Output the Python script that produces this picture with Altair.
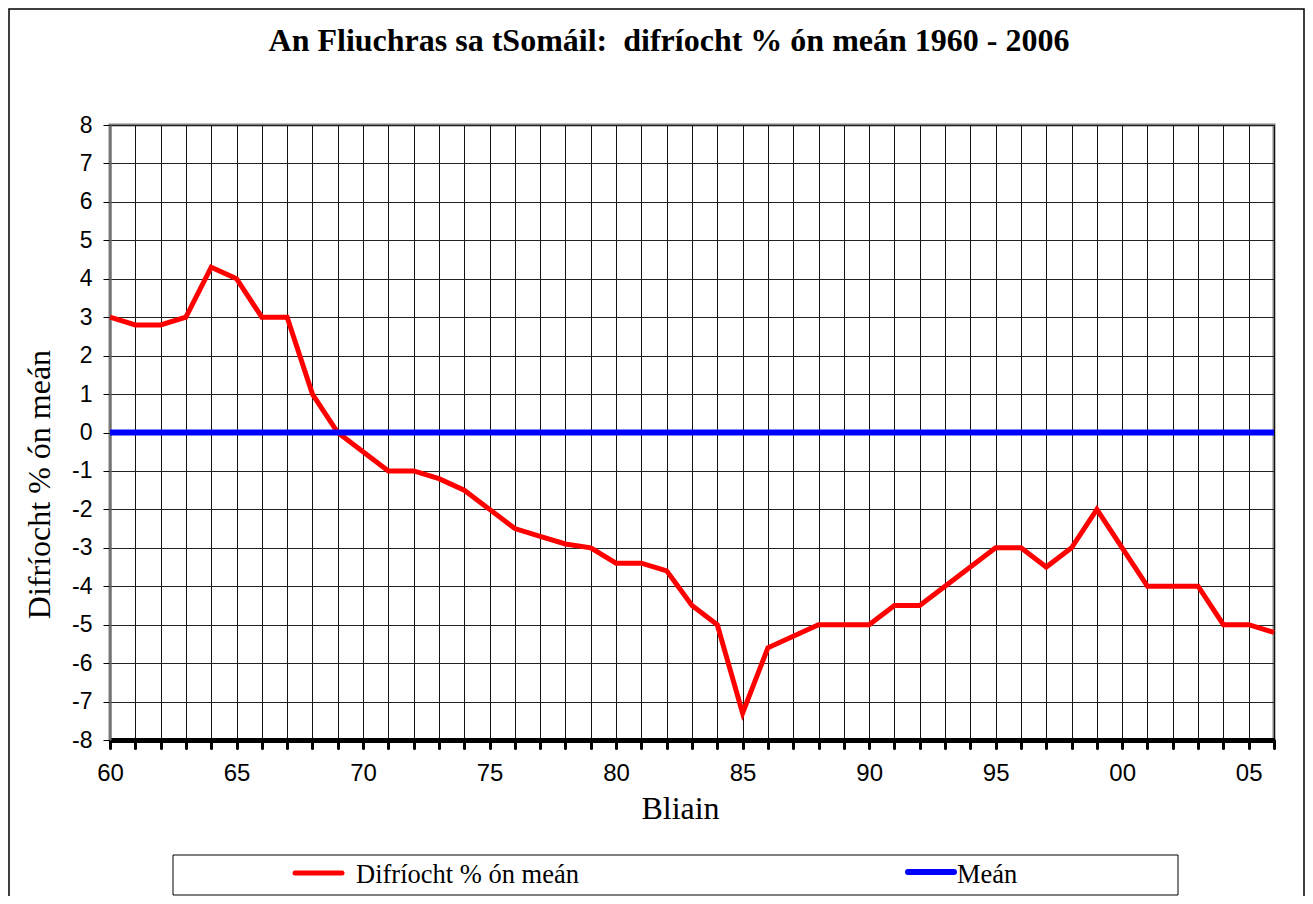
import altair as alt
import pandas as pd

years = list(range(1960, 2007))
diff = [3.0, 2.8, 2.8, 3.0, 4.3, 4.0, 3.0, 3.0, 1.0, 0.0,
        -0.5, -1.0, -1.0, -1.2, -1.5, -2.0, -2.5, -2.7, -2.9, -3.0,
        -3.4, -3.4, -3.6, -4.5, -5.0, -7.3, -5.6, -5.3, -5.0, -5.0,
        -5.0, -4.5, -4.5, -4.0, -3.5, -3.0, -3.0, -3.5, -3.0, -2.0,
        -3.0, -4.0, -4.0, -4.0, -5.0, -5.0, -5.2]
mean_vals = [0.0] * len(years)
y_ticks = list(range(-8, 9))

title_text = "An Fliuchras sa tSomáil:\u00a0 difríocht % ón meán 1960 - 2006"
x_title = "Bliain"
y_title = "Difríocht % ón meán"
legend_labels = ["Difríocht % ón meán", "Meán"]

W, H = 1164, 615

df = pd.DataFrame({"year": years, "diff": diff, "mean": mean_vals})

x_scale = alt.Scale(domain=[1960, 2006], nice=False, zero=False)
y_scale = alt.Scale(domain=[-8, 8], nice=False, zero=False)

x_label_expr = ("datum.value % 5 == 0 ? (datum.value % 100 < 10 ? '0' + (datum.value % 100) : '' + (datum.value % 100)) : ''")
y_label_expr = "'' + datum.value"

x_axis = alt.Axis(values=years, grid=True, gridColor="#111111", gridWidth=1,
                  domainColor="#000000", domainWidth=5,
                  tickColor="#000000", tickWidth=3, tickSize=8, tickCap="round",
                  labelExpr=x_label_expr, labelOverlap=False, labelFlush=False,
                  labelFont="Liberation Sans", labelFontSize=24, labelColor="#000000",
                  labelPadding=13,
                  title=x_title, titleFont="Liberation Serif", titleFontSize=32,
                  titleFontWeight="normal", titleColor="#000000",
                  titleX=570, titleY=78, titleBaseline="alphabetic", titleAlign="center")

y_axis = alt.Axis(values=y_ticks, grid=True, gridColor="#222222", gridWidth=1,
                  domainColor="#707070", domainWidth=2,
                  tickColor="#000000", tickWidth=1, tickSize=7,
                  labelExpr=y_label_expr, labelFlush=False,
                  labelFont="Liberation Sans", labelFontSize=23, labelColor="#000000",
                  labelPadding=11, labelOverlap=False,
                  title=y_title, titleFont="Liberation Serif", titleFontSize=32,
                  titleFontWeight="normal", titleColor="#000000",
                  titleX=-61, titleY=359, titleAngle=-90, titleBaseline="alphabetic",
                  titleAlign="center")

base = alt.Chart(df)

red_line = base.mark_line(color="#ff0000", strokeWidth=5, strokeJoin="miter").encode(
    x=alt.X("year:Q", scale=x_scale, axis=x_axis),
    y=alt.Y("diff:Q", scale=y_scale, axis=y_axis),
)

blue_line = base.mark_line(color="#0000ff", strokeWidth=6).encode(
    x=alt.X("year:Q", scale=x_scale, axis=x_axis),
    y=alt.Y("mean:Q", scale=y_scale, axis=y_axis),
)

one = pd.DataFrame({"k": [0]})

# outer frame of the chart
frame = alt.Chart(one).mark_rect(
    fill=None, stroke="#000000", strokeWidth=1.5, clip=False
).encode(x=alt.value(-101), x2=alt.value(1194), y=alt.value(-116), y2=alt.value(900))

# chart title
title = alt.Chart(pd.DataFrame({"t": [title_text]})).mark_text(
    font="Liberation Serif", fontSize=32, fontWeight="bold", align="center",
    baseline="alphabetic", color="#000000"
).encode(x=alt.value(559), y=alt.value(-74), text="t:N")

# legend box
leg_box = alt.Chart(one).mark_rect(
    fill="#ffffff", stroke="#000000", strokeWidth=1, clip=False
).encode(x=alt.value(63), x2=alt.value(1068), y=alt.value(730), y2=alt.value(770))

leg_red = alt.Chart(one).mark_rule(
    color="#ff0000", strokeWidth=5, strokeCap="round", clip=False
).encode(x=alt.value(185), x2=alt.value(232), y=alt.value(748))

leg_blue = alt.Chart(one).mark_rule(
    color="#0000ff", strokeWidth=6, strokeCap="round", clip=False
).encode(x=alt.value(798), x2=alt.value(844), y=alt.value(747))

leg_text1 = alt.Chart(pd.DataFrame({"t": [legend_labels[0]]})).mark_text(
    font="Liberation Serif", fontSize=26.5, align="left", baseline="alphabetic", color="#000000"
).encode(x=alt.value(246), y=alt.value(758), text="t:N")

leg_text2 = alt.Chart(pd.DataFrame({"t": [legend_labels[1]]})).mark_text(
    font="Liberation Serif", fontSize=26.5, align="left", baseline="alphabetic", color="#000000"
).encode(x=alt.value(847), y=alt.value(758), text="t:N")

chart = alt.layer(
    frame, red_line, blue_line, title, leg_box, leg_red, leg_blue, leg_text1, leg_text2
).properties(
    width=W, height=H,
    padding={"left": 102, "top": 117, "right": 31, "bottom": 156},
    autosize=alt.AutoSizeParams(type="none"),
    background="#ffffff",
).configure_view(stroke="#808080", strokeWidth=3)

chart.save("out.html", embed_options={"renderer": "svg", "actions": False})
